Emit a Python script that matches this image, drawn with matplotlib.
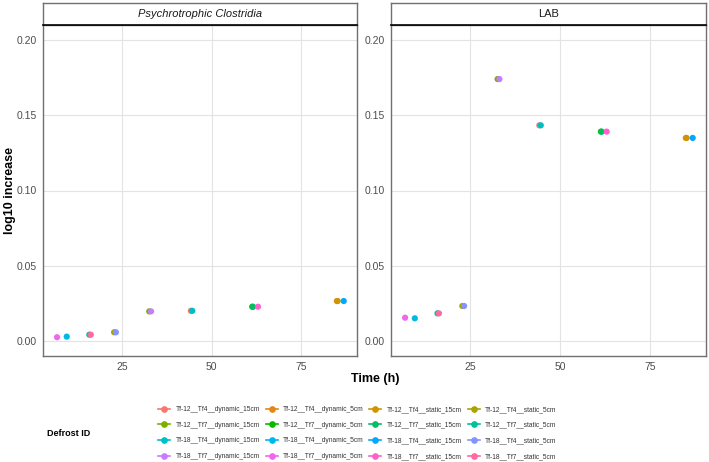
import numpy as np
import matplotlib
matplotlib.use("Agg")
import matplotlib.pyplot as plt
from matplotlib.lines import Line2D

# series names (legend order, ggplot hue palette order)
series = [
    "Tf-12__Tf4__dynamic_15cm", "Tf-12__Tf4__dynamic_5cm", "Tf-12__Tf4__static_15cm", "Tf-12__Tf4__static_5cm",
    "Tf-12__Tf7__dynamic_15cm", "Tf-12__Tf7__dynamic_5cm", "Tf-12__Tf7__static_15cm", "Tf-12__Tf7__static_5cm",
    "Tf-18__Tf4__dynamic_15cm", "Tf-18__Tf4__dynamic_5cm", "Tf-18__Tf4__static_15cm", "Tf-18__Tf4__static_5cm",
    "Tf-18__Tf7__dynamic_15cm", "Tf-18__Tf7__dynamic_5cm", "Tf-18__Tf7__static_15cm", "Tf-18__Tf7__static_5cm",
]

# time (h) of each series' point, same order as series
time_h = [44.2, 84.9, 85.1, 22.8, 32.6, 61.3, 61.5, 15.9,
          44.6, 9.6, 86.8, 23.3, 33.1, 6.9, 62.9, 16.3]

# log10 increase per panel
clostridia = [0.0199, 0.0264, 0.0264, 0.0056, 0.0195, 0.0226, 0.0226, 0.0040,
              0.0199, 0.0027, 0.0264, 0.0056, 0.0195, 0.0023, 0.0226, 0.0040]
lab = [0.1434, 0.1350, 0.1350, 0.0231, 0.1742, 0.1392, 0.1392, 0.0182,
       0.1434, 0.0149, 0.1350, 0.0231, 0.1742, 0.0153, 0.1392, 0.0182]

panels = [("Psychrotrophic Clostridia", clostridia, "italic"), ("LAB", lab, "normal")]


# ggplot default hue palette (HCL, l=65, c=100)
def hcl_hex(h, c=100, l=65):
    Xn, Yn, Zn = 95.047, 100.0, 108.883
    hr = np.deg2rad(h)
    u, v = c * np.cos(hr), c * np.sin(hr)
    Y = Yn * ((l + 16) / 116) ** 3
    d = Xn + 15 * Yn + 3 * Zn
    un, vn = 4 * Xn / d, 9 * Yn / d
    up, vp = u / (13 * l) + un, v / (13 * l) + vn
    X = 9 * Y * up / (4 * vp)
    Z = -X / 3 - 5 * Y + 3 * Y / vp
    X, Y, Z = X / 100, Y / 100, Z / 100
    rgb = [3.240479 * X - 1.537150 * Y - 0.498535 * Z,
           -0.969256 * X + 1.875992 * Y + 0.041556 * Z,
           0.055648 * X - 0.204043 * Y + 1.057311 * Z]
    out = []
    for ch in rgb:
        ch = 1.055 * ch ** (1 / 2.4) - 0.055 if ch > 0.0031308 else 12.92 * ch
        out.append(min(max(ch, 0), 1))
    return tuple(out)


colors = [hcl_hex(15 + 22.5 * i) for i in range(16)]

plt.rcParams["font.family"] = ["Liberation Sans", "DejaVu Sans"]

W, H = 709, 462
fig = plt.figure(figsize=(W / 100, H / 100), dpi=100)

panel_x = [(42.7, 357.0), (390.7, 706.0)]
top, strip_bot, bot = 3.3, 25.0, 356.0

for (title, vals, style), (x0, x1) in zip(panels, panel_x):
    ax = fig.add_axes([x0 / W, 1 - bot / H, (x1 - x0) / W, (bot - strip_bot) / H])
    ax.set_xlim(2.9, 90.5)
    ax.set_ylim(-0.0102, 0.2102)
    ax.set_xticks([25, 50, 75])
    ax.set_yticks([0.0, 0.05, 0.10, 0.15, 0.20])
    ax.set_yticklabels(["0.00", "0.05", "0.10", "0.15", "0.20"])
    ax.grid(True, color="#E3E3E3", linewidth=0.8)
    ax.set_axisbelow(True)
    ax.tick_params(length=0, labelsize=7.5, colors="#4D4D4D", pad=4)
    for s in ax.spines.values():
        s.set_color("#707070")
        s.set_linewidth(1.0)
    for xv, yv, col in zip(time_h, vals, colors):
        ax.scatter(xv, yv, s=20, color=col, edgecolors="none", zorder=3)

    sax = fig.add_axes([x0 / W, 1 - strip_bot / H, (x1 - x0) / W, (strip_bot - top) / H])
    sax.set_xticks([])
    sax.set_yticks([])
    for s in sax.spines.values():
        s.set_color("#707070")
        s.set_linewidth(1.0)
    sax.spines["bottom"].set_color("black")
    sax.spines["bottom"].set_linewidth(1.2)
    sax.text(0.5, 0.5, title, ha="center", va="center", fontsize=8, style=style,
             color="#1A1A1A", transform=sax.transAxes)

fig.text(10 / W, 1 - 190 / H, "log10 increase", rotation=90, ha="center", va="center",
         fontsize=9, fontweight="bold")
fig.text(375 / W, 1 - 379 / H, "Time (h)", ha="center", va="center",
         fontsize=9, fontweight="bold")
fig.text(47 / W, 1 - 433 / H, "Defrost ID", ha="left", va="center",
         fontsize=6.5, fontweight="bold")

# legend: displayed row-major, matplotlib fills column-major
handles = [Line2D([0], [0], color=c, marker="o", markersize=3.8, linewidth=1.2) for c in colors]
order = [4 * r + c for c in range(4) for r in range(4)]
leg = fig.legend([handles[i] for i in order], [series[i] for i in order], ncol=4,
                 loc="center left", bbox_to_anchor=(155 / W, 1 - 433 / H), frameon=False,
                 fontsize=4.8, handlelength=1.8, handletextpad=0.8, columnspacing=0.85,
                 labelspacing=1.3, borderpad=0)
for t in leg.get_texts():
    t.set_color("#333333")

fig.savefig("out.png", dpi=100)
